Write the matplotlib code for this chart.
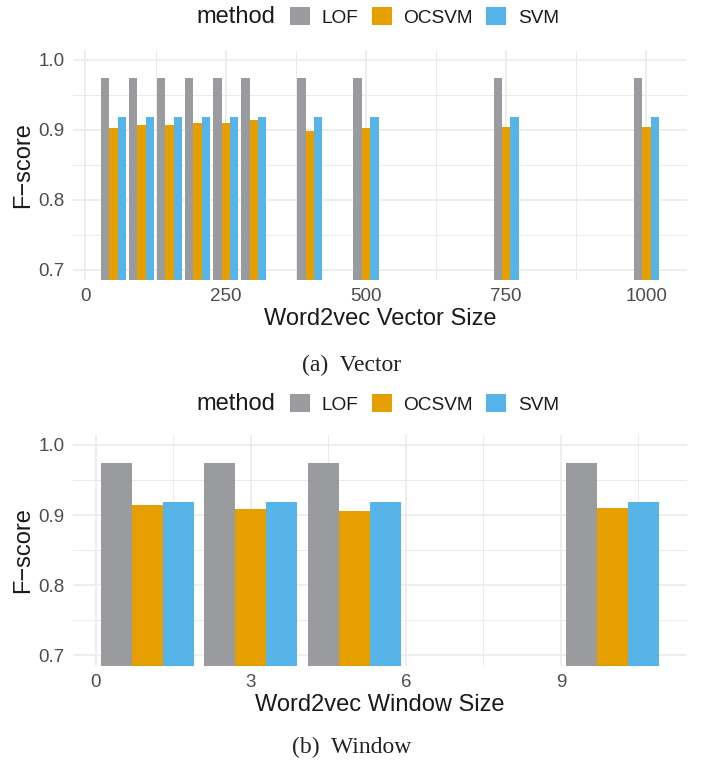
import numpy as np
import matplotlib
matplotlib.use("Agg")
import matplotlib.pyplot as plt
from matplotlib.patches import Patch
from matplotlib.ticker import FixedLocator

plt.rcParams['font.family'] = ['Liberation Sans', 'DejaVu Sans']

methods = ['LOF', 'OCSVM', 'SVM']
colors = ['#9A9B9F', '#E69F00', '#56B4E9']

vec_size = [50, 100, 150, 200, 250, 300, 400, 500, 750, 1000]
vec_lof = [0.974, 0.974, 0.974, 0.974, 0.974, 0.974, 0.974, 0.974, 0.974, 0.974]
vec_ocsvm = [0.903, 0.907, 0.907, 0.910, 0.910, 0.914, 0.899, 0.903, 0.904, 0.904]
vec_svm = [0.918, 0.918, 0.918, 0.918, 0.918, 0.918, 0.918, 0.918, 0.918, 0.918]

win_size = [1, 3, 5, 10]
win_lof = [0.974, 0.974, 0.974, 0.974]
win_ocsvm = [0.914, 0.909, 0.906, 0.910]
win_svm = [0.918, 0.918, 0.918, 0.918]

grid_col = '#EBEBEB'
tick_col = '#4D4D4D'

W, H = 703, 760
fig = plt.figure(figsize=(W/100, H/100), dpi=100)


def panel(top_px, bottom_px, x, series, xticks, xlabel):
    ax = fig.add_axes([73/W, 1 - bottom_px/H, 614/W, (bottom_px - top_px)/H])
    x = np.array(x, dtype=float)
    res = np.min(np.diff(x))
    bw = 0.9 * res / len(series)
    for i, (vals, c) in enumerate(zip(series, colors)):
        ax.bar(x + (i - 1) * bw, vals, width=bw, color=c, linewidth=0, zorder=2)
    lo = x.min() - 1.5 * bw
    hi = x.max() + 1.5 * bw
    pad = 0.05 * (hi - lo)
    ax.set_xlim(lo - pad, hi + pad)
    ax.set_ylim(0.685, 1.015)
    ax.set_xticks(xticks)
    minor = [(a + b) / 2 for a, b in zip(xticks[:-1], xticks[1:])]
    step = xticks[1] - xticks[0]
    minor.append(xticks[-1] + step / 2)
    ax.xaxis.set_minor_locator(FixedLocator(minor))
    ax.set_yticks([0.7, 0.8, 0.9, 1.0])
    ax.set_yticklabels(['0.7', '0.8', '0.9', '1.0'])
    ax.yaxis.set_minor_locator(FixedLocator([0.75, 0.85, 0.95]))
    ax.grid(which='major', color=grid_col, linewidth=1.2, zorder=0)
    ax.grid(which='minor', color=grid_col, linewidth=0.7, zorder=0)
    ax.set_axisbelow(True)
    for s in ax.spines.values():
        s.set_visible(False)
    ax.tick_params(which='both', length=0, labelsize=13.5, labelcolor=tick_col)
    ax.tick_params(axis='x', pad=6)
    ax.tick_params(axis='y', pad=6)
    ax.set_xlabel(xlabel, fontsize=17, color='#1A1A1A', labelpad=2)
    ax.set_ylabel('F\u2212score', fontsize=17, color='#1A1A1A', labelpad=3)
    return ax


def legend(y_px):
    fig.text(196/W, 1 - y_px/H, 'method', fontsize=17, color='#1A1A1A',
             ha='left', va='center')
    handles = [Patch(facecolor=c, edgecolor='none') for c in colors]
    fig.legend(handles, methods, loc='center left', ncol=3,
               bbox_to_anchor=(290/W, 1 - y_px/H), frameon=False,
               fontsize=13.7, handlelength=1.05, handleheight=1.05,
               handletextpad=0.63, columnspacing=0.68, borderpad=0,
               borderaxespad=0, labelcolor='#1A1A1A')


panel(49.5, 280, vec_size, [vec_lof, vec_ocsvm, vec_svm],
      [0, 250, 500, 750, 1000], 'Word2vec Vector Size')
legend(17)
fig.text(0.5, 1 - 365/H, '(a)  Vector', fontsize=17, family='Liberation Serif',
         ha='center', va='center', color='#222222')

panel(434.5, 665.5, win_size, [win_lof, win_ocsvm, win_svm],
      [0, 3, 6, 9], 'Word2vec Window Size')
legend(404)
fig.text(0.5, 1 - 747/H, '(b)  Window', fontsize=17, family='Liberation Serif',
         ha='center', va='center', color='#222222')

fig.savefig('out.png', dpi=100, facecolor='white')
